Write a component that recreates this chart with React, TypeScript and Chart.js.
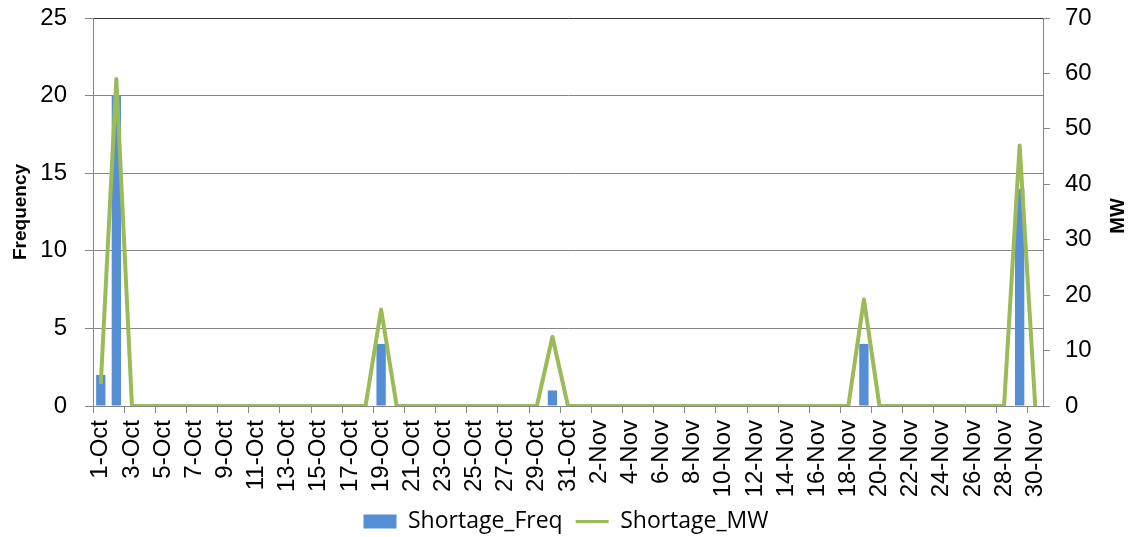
import React, { useEffect, useRef } from "react";
import { Chart, registerables } from "chart.js";

Chart.register(...registerables);

const categories: string[] = [
  "1-Oct", "2-Oct", "3-Oct", "4-Oct", "5-Oct", "6-Oct", "7-Oct", "8-Oct", "9-Oct", "10-Oct",
  "11-Oct", "12-Oct", "13-Oct", "14-Oct", "15-Oct", "16-Oct", "17-Oct", "18-Oct", "19-Oct", "20-Oct",
  "21-Oct", "22-Oct", "23-Oct", "24-Oct", "25-Oct", "26-Oct", "27-Oct", "28-Oct", "29-Oct", "30-Oct",
  "31-Oct",
  "1-Nov", "2-Nov", "3-Nov", "4-Nov", "5-Nov", "6-Nov", "7-Nov", "8-Nov", "9-Nov", "10-Nov",
  "11-Nov", "12-Nov", "13-Nov", "14-Nov", "15-Nov", "16-Nov", "17-Nov", "18-Nov", "19-Nov", "20-Nov",
  "21-Nov", "22-Nov", "23-Nov", "24-Nov", "25-Nov", "26-Nov", "27-Nov", "28-Nov", "29-Nov", "30-Nov",
];

// Shortage frequency (left axis)
const shortageFreq: number[] = [
  2, 20, 0, 0, 0, 0, 0, 0, 0, 0,
  0, 0, 0, 0, 0, 0, 0, 0, 4, 0,
  0, 0, 0, 0, 0, 0, 0, 0, 0, 1,
  0,
  0, 0, 0, 0, 0, 0, 0, 0, 0, 0,
  0, 0, 0, 0, 0, 0, 0, 0, 4, 0,
  0, 0, 0, 0, 0, 0, 0, 0, 14, 0,
];

// Shortage MW (right axis)
const shortageMW: number[] = [
  4, 59, 0, 0, 0, 0, 0, 0, 0, 0,
  0, 0, 0, 0, 0, 0, 0, 0, 17.4, 0,
  0, 0, 0, 0, 0, 0, 0, 0, 0, 12.5,
  0,
  0, 0, 0, 0, 0, 0, 0, 0, 0, 0,
  0, 0, 0, 0, 0, 0, 0, 0, 19.2, 0,
  0, 0, 0, 0, 0, 0, 0, 0, 47, 0,
];

const freqTicks = { min: 0, max: 25, step: 5 };
const mwTicks = { min: 0, max: 70, step: 10 };

const GRAY = "#868686";
const FONT = '"Liberation Sans", Arial, sans-serif';

const mwTitlePlugin = {
  id: "mwTitle",
  afterDraw(chart: any) {
    const s = chart.scales.y1;
    const ctx = chart.ctx;
    ctx.save();
    ctx.translate(s.right - 14, (chart.chartArea.top + chart.chartArea.bottom) / 2 + 4);
    ctx.rotate(-Math.PI / 2);
    ctx.font = `bold 20px ${FONT}`;
    ctx.fillStyle = "#000";
    ctx.textAlign = "center";
    ctx.textBaseline = "middle";
    ctx.fillText("MW", 0, 0);
    ctx.restore();
  },
};

export default function App() {
  const canvasRef = useRef<HTMLCanvasElement | null>(null);

  useEffect(() => {
    if (!canvasRef.current) return;
    const chart = new Chart(canvasRef.current, {
      type: "bar",
      data: {
        labels: categories,
        datasets: [
          {
            type: "bar",
            label: "Shortage_Freq",
            data: shortageFreq,
            backgroundColor: "#558ED5",
            borderWidth: 0,
            yAxisID: "y",
            barPercentage: 0.6,
            categoryPercentage: 1,
            order: 1,
            pointStyle: "rect",
          } as any,
          {
            type: "line",
            label: "Shortage_MW",
            data: shortageMW,
            borderColor: "#9BBB59",
            backgroundColor: "#9BBB59",
            borderWidth: 4,
            pointRadius: 0,
            pointHoverRadius: 0,
            pointBorderWidth: 3,
            pointStyle: "line",
            borderJoinStyle: "round",
            tension: 0,
            yAxisID: "y1",
            order: 0,
          } as any,
        ],
      },
      options: {
        responsive: false,
        animation: false,
        layout: { padding: { top: 18, left: 0, right: 0, bottom: -6 } },
        plugins: {
          legend: {
            position: "bottom",
            labels: {
              usePointStyle: true,
              pointStyleWidth: 33,
              boxWidth: 33,
              boxHeight: 14,
              padding: 13,
              color: "#000",
              font: { family: '"Open Sans", sans-serif', size: 23 },
              sort: (a: any, b: any) => a.datasetIndex - b.datasetIndex,
            },
          },
          tooltip: { enabled: false },
        },
        scales: {
          x: {
            offset: true,
            grid: {
              offset: true,
              drawOnChartArea: false,
              drawTicks: true,
              tickLength: 7,
              tickColor: (ctx: any) =>
                ctx.index !== undefined && ctx.index % 2 === 0 ? GRAY : "rgba(0,0,0,0)",
            },
            border: { color: GRAY, width: 1 },
            ticks: {
              autoSkip: false,
              minRotation: 90,
              maxRotation: 90,
              padding: 7,
              color: "#000",
              font: { family: FONT, size: 24 },
              callback: (_v: any, i: number) => (i % 2 === 0 ? categories[i] : ""),
            },
            afterFit: (s: any) => {
              s.height = 91;
            },
          },
          y: {
            position: "left",
            min: freqTicks.min,
            max: freqTicks.max,
            ticks: {
              stepSize: freqTicks.step,
              padding: 18,
              color: "#000",
              font: { family: FONT, size: 24 },
            },
            grid: {
              color: (ctx: any) => (ctx.tick && ctx.tick.value === freqTicks.max ? "#333333" : GRAY),
              tickLength: 8,
              tickColor: GRAY,
              lineWidth: 1,
            },
            border: { color: GRAY, width: 1 },
            title: {
              display: true,
              text: "Frequency",
              color: "#000",
              font: { family: FONT, size: 19, weight: "bold" },
              padding: { top: 9, bottom: 0 },
            },
            afterFit: (s: any) => {
              s.width = 93;
              s.paddingTop = 0;
              s.paddingBottom = 0;
            },
          },
          y1: {
            position: "right",
            min: mwTicks.min,
            max: mwTicks.max,
            ticks: {
              stepSize: mwTicks.step,
              padding: 15,
              color: "#000",
              font: { family: FONT, size: 24 },
            },
            grid: {
              drawOnChartArea: false,
              tickLength: 7,
              tickColor: GRAY,
            },
            border: { color: GRAY, width: 1 },
            afterFit: (s: any) => {
              s.width = 89;
              s.paddingTop = 0;
              s.paddingBottom = 0;
            },
          },
        },
      } as any,
      plugins: [mwTitlePlugin],
    });
    return () => chart.destroy();
  }, []);

  return (
    <div style={{ position: "absolute", left: 0, top: 0, width: 1132, height: 537, background: "#fff" }}>
      <canvas ref={canvasRef} width={1132} height={537} />
    </div>
  );
}
